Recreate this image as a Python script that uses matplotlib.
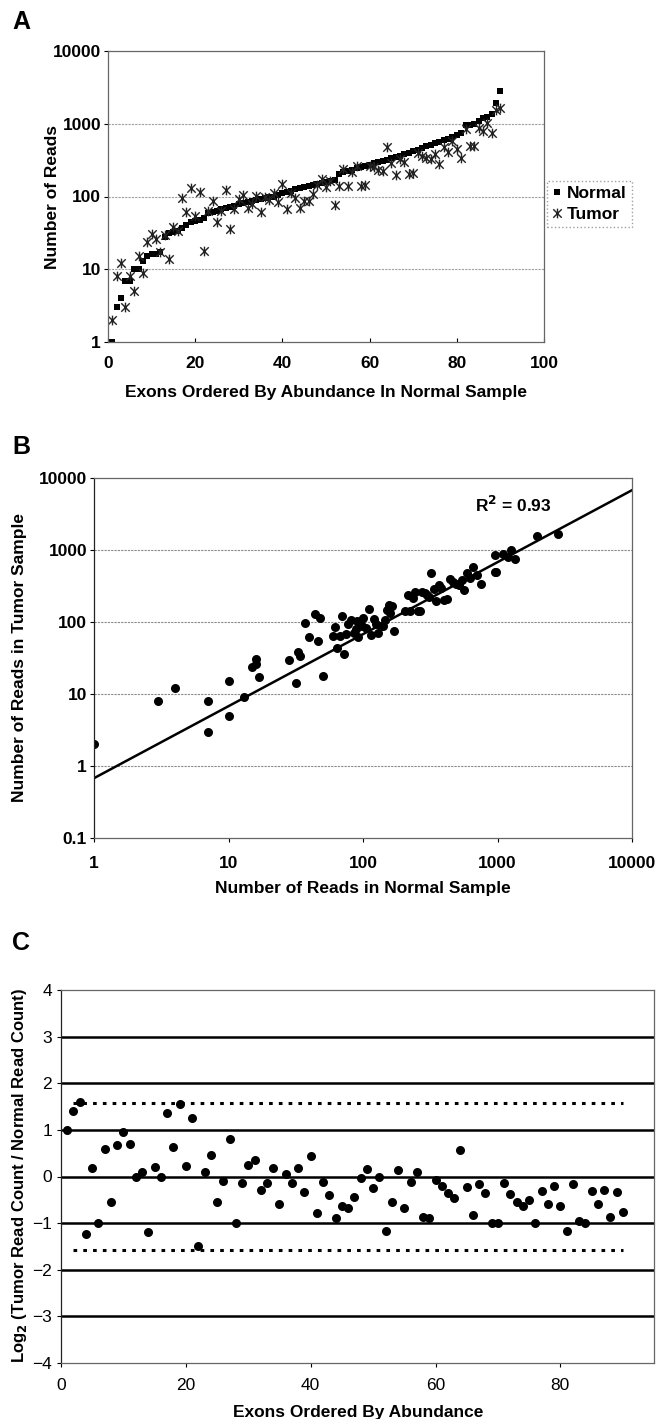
import matplotlib
matplotlib.use('Agg')
import matplotlib.pyplot as plt
import numpy as np
from matplotlib.path import Path
from matplotlib.ticker import FixedLocator, FixedFormatter, NullLocator

plt.rcParams['font.family'] = ['Liberation Sans', 'DejaVu Sans']

W, H = 667, 1419

# exons ordered by abundance in the normal sample
exon_rank = list(range(1, 91))
normal_reads = [1, 3, 4, 7, 7, 10, 10, 13, 15, 16,
                16, 17, 28, 32, 33, 34, 37, 40, 44, 46,
                48, 50, 60, 62, 64, 67, 70, 72, 75, 78,
                82, 85, 88, 90, 92, 95, 98, 100, 105, 110,
                115, 120, 125, 130, 135, 140, 145, 150, 155, 160,
                165, 170, 205, 215, 225, 235, 245, 255, 265, 275,
                290, 300, 310, 320, 335, 350, 365, 380, 400, 420,
                440, 465, 490, 515, 540, 565, 590, 620, 660, 700,
                750, 950, 960, 980, 1100, 1200, 1250, 1350, 1950, 2800]
# log2(tumor / normal) per exon
log2_ratio = [1.0, 1.41, 1.59, -1.23, 0.19, -1.0, 0.58, -0.54, 0.68, 0.95,
              0.70, 0.0, 0.10, -1.19, 0.21, 0.0, 1.37, 0.63, 1.56, 0.23,
              1.26, -1.49, 0.09, 0.47, -0.54, -0.09, 0.80, -1.0, -0.14, 0.25,
              0.35, -0.29, -0.14, 0.18, -0.59, 0.06, -0.14, 0.18, -0.34, 0.45,
              -0.79, -0.11, -0.40, -0.90, -0.64, -0.68, -0.44, -0.04, 0.16, -0.25,
              0.0, -1.16, -0.55, 0.14, -0.68, -0.11, 0.09, -0.86, -0.90, -0.08,
              -0.20, -0.36, -0.46, 0.56, -0.22, -0.82, -0.16, -0.36, -0.99, -1.0,
              -0.14, -0.37, -0.54, -0.64, -0.51, -1.0, -0.31, -0.58, -0.20, -0.63,
              -1.16, -0.16, -0.96, -1.0, -0.31, -0.58, -0.30, -0.86, -0.33, -0.76]
cutoff = np.log2(3)

normal = np.array(normal_reads, dtype=float)
ratio = np.array(log2_ratio)
tumor = np.round(normal * 2.0 ** ratio)

# excel-like "x with a bar" marker
star_x = Path([(-1, -1), (1, 1), (-1, 1), (1, -1), (0, -1.15), (0, 1.15)],
              [Path.MOVETO, Path.LINETO] * 3)


def box(l, t, r, b):
    return [l / W, 1 - b / H, (r - l) / W, (b - t) / H]


def ftext(x, y, s, **kw):
    fig.text(x / W, 1 - y / H, s, **kw)


def bold_ticks(ax):
    for lab in ax.get_xticklabels() + ax.get_yticklabels():
        lab.set_fontweight('bold')


fig = plt.figure(figsize=(W / 100, H / 100), dpi=100)
bold = dict(fontweight='bold')

# ---------------- A ----------------
axA = fig.add_axes(box(108, 51, 544, 342))
axA.semilogy(exon_rank, normal, 's', color='black', ms=4, mew=0, label='Normal')
axA.semilogy(exon_rank, tumor, marker=star_x, ls='none', color='#222222',
             ms=7, mew=1.0, label='Tumor')
axA.set_xlim(0, 100)
axA.set_ylim(1, 10000)
axA.yaxis.set_major_locator(FixedLocator([1, 10, 100, 1000, 10000]))
axA.yaxis.set_major_formatter(FixedFormatter(['1', '10', '100', '1000', '10000']))
axA.yaxis.set_minor_locator(NullLocator())
axA.set_xticks([0, 20, 40, 60, 80, 100])
for v in [10, 100, 1000]:
    axA.axhline(v, color='#a0a0a0', lw=0.8, ls=(0, (2, 1)), zorder=0)
axA.tick_params(axis='y', length=3, labelsize=12.5, pad=2)
axA.tick_params(axis='x', direction='in', length=3, labelsize=12.5, pad=10)
bold_ticks(axA)
leg = axA.legend(loc='upper left', bbox_to_anchor=(547 / W, 1 - 181 / H),
                 bbox_transform=fig.transFigure, frameon=True, fancybox=False,
                 prop=dict(size=12.5, weight='bold'), handletextpad=0.25,
                 handlelength=0.6, borderpad=0.3, labelspacing=0.3,
                 borderaxespad=0)
leg.get_frame().set_edgecolor('#888888')
leg.get_frame().set_linestyle(':')
leg.get_frame().set_linewidth(1.0)
ftext(53, 197, 'Number of Reads', rotation=90, ha='center', va='center',
      fontsize=12.5, **bold)
ftext(326, 392, 'Exons Ordered By Abundance In Normal Sample', ha='center',
      va='center', fontsize=12.5, **bold)
ftext(21, 22, 'A', ha='center', va='center', fontsize=18, **bold)

# ---------------- B ----------------
axB = fig.add_axes(box(94, 478, 632, 838))
axB.loglog(normal, tumor, 'o', color='black', ms=6.5, mew=0)
# linear trendline through the origin
slope = np.sum(normal * tumor) / np.sum(normal ** 2)
xfit = np.array([1, 10000])
axB.loglog(xfit, slope * xfit, color='black', lw=1.8)
axB.set_xlim(1, 10000)
axB.set_ylim(0.1, 10000)
axB.xaxis.set_major_locator(FixedLocator([1, 10, 100, 1000, 10000]))
axB.xaxis.set_major_formatter(FixedFormatter(['1', '10', '100', '1000', '10000']))
axB.yaxis.set_major_locator(FixedLocator([0.1, 1, 10, 100, 1000, 10000]))
axB.yaxis.set_major_formatter(FixedFormatter(['0.1', '1', '10', '100', '1000', '10000']))
axB.xaxis.set_minor_locator(NullLocator())
axB.yaxis.set_minor_locator(NullLocator())
for v in [1, 10, 100, 1000]:
    axB.axhline(v, color='#8a8a8a', lw=0.8, ls=(0, (2, 1)), zorder=0)
axB.tick_params(axis='y', length=3, labelsize=12.5, pad=2)
axB.tick_params(axis='x', length=3, labelsize=12.5, pad=10)
bold_ticks(axB)
ftext(513, 505, r'R$^\mathbf{2}$ = 0.93', ha='center', va='center', fontsize=12.5, **bold)
ftext(20, 658, 'Number of Reads in Tumor Sample', rotation=90, ha='center',
      va='center', fontsize=12.5, **bold)
ftext(363, 888, 'Number of Reads in Normal Sample', ha='center', va='center',
      fontsize=12.5, **bold)
ftext(21, 447, 'B', ha='center', va='center', fontsize=18, **bold)

# ---------------- C ----------------
axC = fig.add_axes(box(61, 990, 654, 1363))
axC.plot(exon_rank, ratio, 'o', color='black', ms=6.5, mew=0, zorder=3)
for v in [-3, -2, -1, 0, 1, 2, 3]:
    axC.axhline(v, color='black', lw=1.8, zorder=1)
for v in [cutoff, -cutoff]:
    axC.plot([exon_rank[1], exon_rank[-1]], [v, v], color='black', lw=2.2,
             ls=(0, (1.2, 2.0)), zorder=2)
axC.set_xlim(0, 95)
axC.set_ylim(-4, 4)
axC.set_xticks([0, 20, 40, 60, 80])
axC.set_yticks(range(-4, 5))
axC.tick_params(axis='both', length=3, labelsize=12.5)
axC.tick_params(axis='x', pad=8)
ftext(20, 1176, r'Log$_\mathbf{2}$ (Tumor Read Count / Normal Read Count)',
      rotation=90, ha='center', va='center', fontsize=12, **bold)
ftext(358, 1412, 'Exons Ordered By Abundance', ha='center', va='center',
      fontsize=12.5, **bold)
ftext(21, 943, 'C', ha='center', va='center', fontsize=18, **bold)

for ax in (axA, axB, axC):
    for s in ax.spines.values():
        s.set_color('#666666')
        s.set_linewidth(0.9)
axB.spines['left'].set_color('#222222')
axC.spines['left'].set_color('#222222')

fig.savefig('out.png', dpi=100)
